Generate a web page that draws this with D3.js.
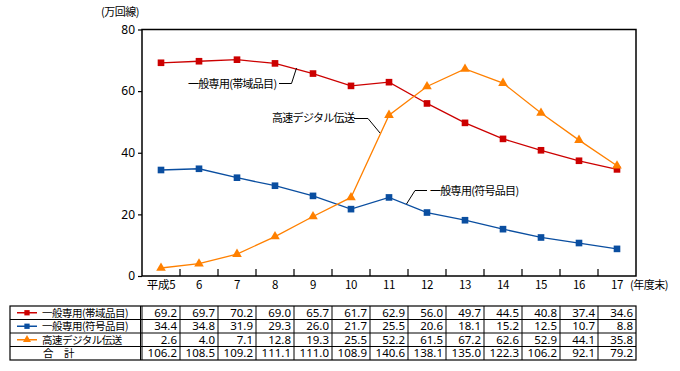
<!DOCTYPE html>
<html><head><meta charset="utf-8">
<script src="https://cdn.jsdelivr.net/npm/d3@7"></script>
<style>body{margin:0;background:#fff}svg{display:block}text{font-family:"Noto Sans CJK JP","Noto Sans",sans-serif;fill:#000}</style>
</head><body>
<script>
const categories = ["平成5","6","7","8","9","10","11","12","13","14","15","16","17"];
const seriesNames = ["一般専用(帯域品目)","一般専用(符号品目)","高速デジタル伝送"];
const band = [69.2,69.7,70.2,69.0,65.7,61.7,62.9,56.0,49.7,44.5,40.8,37.4,34.6];
const code = [34.4,34.8,31.9,29.3,26.0,21.7,25.5,20.6,18.1,15.2,12.5,10.7,8.8];
const digital = [2.6,4.0,7.1,12.8,19.3,25.5,52.2,61.5,67.2,62.6,52.9,44.1,35.8];
const totals = [106.2,108.5,109.2,111.1,111.0,108.9,140.6,138.1,135.0,122.3,106.2,92.1,79.2];
const yTicks = [0,20,40,60,80];
const colors = ["#cc0000","#0a4ea0","#ff8000"];
const markers = [d3.symbolSquare, d3.symbolSquare, d3.symbolTriangle];

const W=680,H=371;
const svg=d3.select("body").append("svg").attr("width",W).attr("height",H);
const L=142,R=636,T=29.5,B=276;
const x=d3.scaleBand().domain(categories).range([L,R]);
const y=d3.scaleLinear().domain([0,80]).range([B,T]);

// frame
svg.append("rect").attr("x",L).attr("y",T).attr("width",R-L).attr("height",B-T)
  .attr("fill","none").attr("stroke","#000").attr("stroke-width",1.5);

// y axis
const ya=svg.append("g").attr("transform",`translate(${L},0)`)
  .call(d3.axisLeft(y).tickValues(yTicks).tickSize(4).tickPadding(3));
ya.select(".domain").remove();
ya.selectAll("line").attr("stroke","#000").attr("stroke-width",1.2);
ya.selectAll("text").style("font-size","12px").style("font-family","'Noto Sans',sans-serif");

// x ticks inside, between categories
svg.append("g").selectAll("line").data(categories.slice(1)).join("line")
  .attr("x1",d=>x(d)).attr("x2",d=>x(d)).attr("y1",B).attr("y2",B-7)
  .attr("stroke","#000").attr("stroke-width",1.2);
svg.append("g").selectAll("text").data(categories).join("text")
  .attr("x",d=>x(d)+x.bandwidth()/2).attr("y",B+13).attr("text-anchor","middle")
  .style("font-size","11.5px").style("letter-spacing","-0.3px").text(d=>d);
svg.append("text").attr("x",630).attr("y",B+13).style("font-size","11px").style("letter-spacing","-0.5px").text("(年度末)");
svg.append("text").attr("x",101).attr("y",15.5).style("font-size","11px").style("letter-spacing","-0.5px").text("(万回線)");

// lines
const data=[band,code,digital];
const line=d3.line().x((d,i)=>x(categories[i])+x.bandwidth()/2).y(d=>y(d));
data.forEach((s,k)=>{
  svg.append("path").datum(s).attr("d",line).attr("fill","none").attr("stroke",colors[k]).attr("stroke-width",1.3);
  svg.append("g").selectAll("path").data(s).join("path")
    .attr("transform",(d,i)=>`translate(${x(categories[i])+x.bandwidth()/2},${y(d)})`)
    .attr("d",d3.symbol().type(markers[k]).size(k===2?40:44)).attr("fill",colors[k]);
});

// annotations
const ann=svg.append("g").style("font-size","11px").style("letter-spacing","-0.7px");
function leader(pts){svg.append("path").attr("d",d3.line()(pts)).attr("fill","none").attr("stroke","#000").attr("stroke-width",1);}
ann.append("text").attr("x",188).attr("y",88).text(seriesNames[0]);
leader([[279,83.5],[291.5,83.5],[296.5,68]]);
ann.append("text").attr("x",272).attr("y",122).text(seriesNames[2]);
leader([[354,118.5],[368,118.5],[380,133]]);
ann.append("text").attr("x",430).attr("y",195).text(seriesNames[1]);
leader([[427,190.5],[415,190.5],[406.5,204]]);

// table
const tT=306, rh=13.5, tL=10, lw=140.5;
const tg=svg.append("g");
const rows=[band,code,digital,totals];
const nR=4;
tg.append("rect").attr("x",tL).attr("y",tT).attr("width",R-tL).attr("height",rh*nR).attr("fill","none").attr("stroke","#000").attr("stroke-width",1.2);
for(let r=1;r<nR;r++) tg.append("line").attr("x1",tL).attr("x2",R).attr("y1",tT+r*rh).attr("y2",tT+r*rh).attr("stroke","#000").attr("stroke-width",1);
tg.append("line").attr("x1",lw).attr("x2",lw).attr("y1",tT).attr("y2",tT+rh*nR).attr("stroke","#000").attr("stroke-width",1);
tg.selectAll(".vc").data(categories).join("line")
  .attr("x1",d=>x(d)).attr("x2",d=>x(d)).attr("y1",tT).attr("y2",tT+rh*nR).attr("stroke","#000").attr("stroke-width",1);
rows.forEach((row,r)=>{
  tg.append("g").selectAll("text").data(row).join("text")
    .attr("x",(d,i)=>x(categories[i])+x.bandwidth()-3).attr("y",tT+r*rh+rh/2+4.2)
    .attr("text-anchor","end").style("font-size","11.5px").style("font-family","'Noto Sans',sans-serif")
    .text(d=>d.toFixed(1));
});
seriesNames.forEach((n,k)=>{
  const cy=tT+k*rh+rh/2;
  tg.append("line").attr("x1",17).attr("x2",37).attr("y1",cy).attr("y2",cy).attr("stroke",colors[k]).attr("stroke-width",1.5);
  tg.append("path").attr("transform",`translate(27,${cy})`).attr("d",d3.symbol().type(markers[k]).size(28)).attr("fill",colors[k]);
  tg.append("text").attr("x",42).attr("y",cy+3.8).style("font-size","10.5px").style("letter-spacing","-0.5px").text(n);
});
tg.append("text").attr("x",43).attr("y",tT+3*rh+rh/2+3.8).style("font-size","10.5px").text("合　計");
</script>
</body></html>
